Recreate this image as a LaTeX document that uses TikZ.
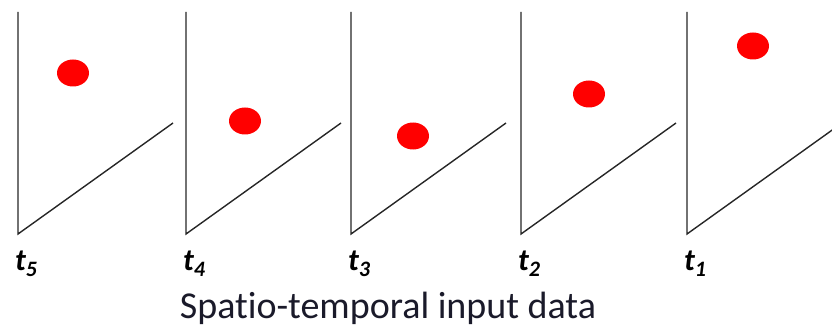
\documentclass[tikz,border=0pt]{standalone}
\usepackage{fontspec}
\setmainfont{Carlito}[Ligatures=NoCommon]
\usepackage{tikz}
\usetikzlibrary{positioning}
\definecolor{framegray}{HTML}{262626}
\definecolor{dotred}{HTML}{FF0000}
\definecolor{captionink}{HTML}{1A1A2A}
\newcommand{\tsub}[1]{\raisebox{-6pt}{\fontsize{22}{24}\selectfont #1}}
\tikzset{
  frameline/.style={draw=framegray,line width=1.4pt},
  eventdot/.style={fill=dotred},
  timelabel/.style={anchor=base west,inner sep=0pt,font=\fontsize{31}{33}\selectfont\bfseries\itshape},
  captionlabel/.style={anchor=base,inner sep=0pt,text=captionink,font=\fontsize{38}{40}\selectfont}
}

\begin{document}
\begin{tikzpicture}[x=1pt,y=-1pt]
  \useasboundingbox (0,0) rectangle (832,326);
  \clip (0,0) rectangle (832,326);
  % one frame per time step: x of the axis, dot centre, index
  \foreach \px/\dx/\dy/\k in {18/73/73/5,186/245/121/4,351/413/136/3,521/589/94/2,687/753/46/1}{
    \draw[frameline] (\px,12) -- (\px,234) -- ++(155,-111);
    \fill[eventdot] (\dx,\dy) ellipse [x radius=16,y radius=13.5];
    \node[timelabel] (t\k) at (\px-3,270) {t\tsub{\k}};
  }
  \node[captionlabel] (caption) at (388,318) {Spatio-temporal input data};
\end{tikzpicture}
\end{document}
